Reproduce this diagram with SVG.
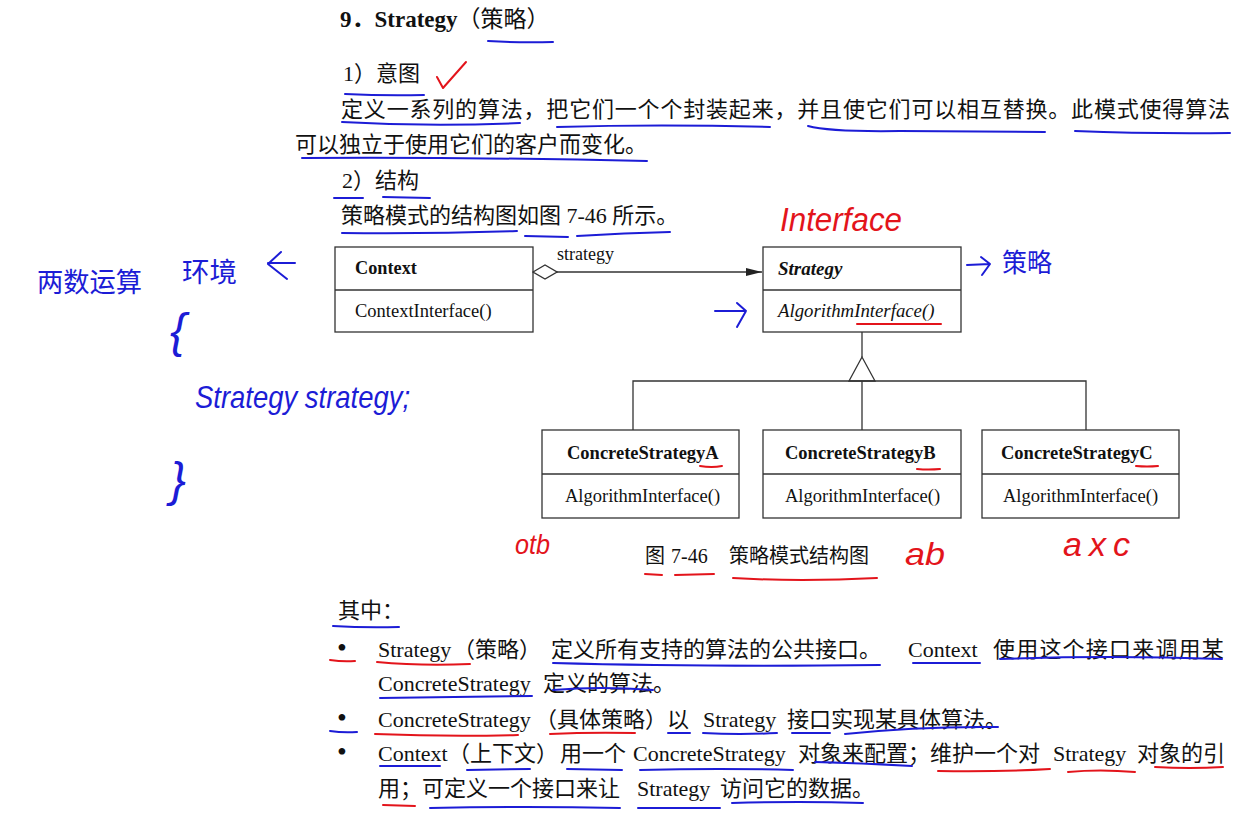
<svg xmlns="http://www.w3.org/2000/svg" width="1257" height="813" viewBox="0 0 1257 813">
<style>
.t{font-family:"Liberation Serif","Noto Sans CJK SC",serif;fill:#111;font-size:22px}
.u{font-family:"Liberation Serif","Noto Sans CJK SC",serif;fill:#111;font-size:18.5px}
.b{font-weight:bold}
.i{font-style:italic}
.bul{font-family:"Liberation Serif",serif;fill:#111;font-size:28px}
.box{fill:#fff;stroke:#333;stroke-width:1.3}
.ln{fill:none;stroke:#333;stroke-width:1.3}
.ub{fill:none;stroke:#1c1cd6;stroke-width:2;stroke-linecap:round;stroke-linejoin:round}
.ur{fill:none;stroke:#e3141b;stroke-width:2;stroke-linecap:round;stroke-linejoin:round}
.hb{font-family:"Liberation Sans","DejaVu Sans",sans-serif;font-style:italic;fill:#1c1cd6}
.hbc{font-family:"Noto Sans CJK SC",sans-serif;fill:#1c1cd6}
.hr{font-family:"Liberation Sans","DejaVu Sans",sans-serif;font-style:italic;fill:#e3141b}
</style>
<defs>
<marker id="diamond" viewBox="0 0 26 16" refX="1" refY="8" markerWidth="26" markerHeight="16" orient="auto" markerUnits="userSpaceOnUse"><path d="M1,8 L13,1 L25,8 L13,15 Z" fill="#fff" stroke="#333" stroke-width="1.3"/></marker>
<marker id="arrow" viewBox="0 0 16 10" refX="16" refY="5" markerWidth="16" markerHeight="10" orient="auto" markerUnits="userSpaceOnUse"><path d="M0,1 L16,5 L0,9 Z" fill="#222"/></marker>
</defs>
<rect width="1257" height="813" fill="#fff"/>

<g id="heading">
<text class="t" x="340" y="27" style="font-size:23px"><tspan class="b">9．Strategy</tspan>（策略）</text>
<text class="t" x="343" y="81">1）意图</text>
<text class="t" x="341" y="117" textLength="889" lengthAdjust="spacing">定义一系列的算法，把它们一个个封装起来，并且使它们可以相互替换。此模式使得算法</text>
<text class="t" x="295" y="152">可以独立于使用它们的客户而变化。</text>
<text class="t" x="342" y="188">2）结构</text>
<text class="t" x="341" y="223">策略模式的结构图如图 7-46 所示。</text>
</g>

<g id="context">
<rect class="box" x="335" y="247" width="198" height="85"/>
<line class="ln" x1="335" y1="290" x2="533" y2="290"/>
<text class="u b" x="355" y="274" style="font-size:18.3px">Context</text>
<text class="u" x="355" y="317">ContextInterface()</text>
</g>

<g id="strategy">
<rect class="box" x="763" y="247" width="198" height="85"/>
<line class="ln" x1="763" y1="290" x2="961" y2="290"/>
<text class="u b i" x="778" y="275" style="font-size:19px">Strategy</text>
<text class="u i" x="778" y="317" style="font-size:18.8px">AlgorithmInterface()</text>
</g>

<g id="concreteA">
<rect class="box" x="542" y="430" width="197" height="88"/>
<line class="ln" x1="542" y1="474" x2="739" y2="474"/>
<text class="u b" x="567" y="459">ConcreteStrategyA</text>
<text class="u" x="565" y="502">AlgorithmInterface()</text>
</g>

<g id="concreteB">
<rect class="box" x="763" y="430" width="198" height="88"/>
<line class="ln" x1="763" y1="474" x2="961" y2="474"/>
<text class="u b" x="785" y="459">ConcreteStrategyB</text>
<text class="u" x="785" y="502">AlgorithmInterface()</text>
</g>

<g id="concreteC">
<rect class="box" x="982" y="430" width="197" height="88"/>
<line class="ln" x1="982" y1="474" x2="1179" y2="474"/>
<text class="u b" x="1001" y="459">ConcreteStrategyC</text>
<text class="u" x="1003" y="502">AlgorithmInterface()</text>
</g>

<g id="connectors">
<line class="ln" x1="533" y1="272" x2="762" y2="272" marker-start="url(#diamond)" marker-end="url(#arrow)"/>
<text class="u" x="557" y="260" style="font-size:18px">strategy</text>
<path class="ln" d="M862,332 V357"/>
<path class="ln" d="M862,357 L849,381 L875,381 Z"/>
<path class="ln" d="M633,430 V381 H1086 V430 M862,381 V430"/>
</g>

<g id="caption">
<text class="t" y="563" style="font-size:20px"><tspan x="645">图</tspan><tspan x="671">7-46</tspan><tspan x="729">策略模式结构图</tspan></text>
</g>

<g id="notes">
<text class="t" x="338" y="618">其中：</text>
<text class="bul" x="337" y="657">•</text>
<text class="t" y="657"><tspan x="378">Strategy</tspan><tspan x="453">（策略）</tspan><tspan x="551">定义所有支持的算法的公共接口。</tspan><tspan x="908">Context</tspan><tspan x="993" letter-spacing="1.2">使用这个接口来调用某</tspan></text>
<text class="t" y="691"><tspan x="378">ConcreteStrategy</tspan><tspan x="543">定义的算法。</tspan></text>
<text class="bul" x="337" y="727">•</text>
<text class="t" y="727"><tspan x="378">ConcreteStrategy</tspan><tspan x="535">（具体策略）</tspan><tspan x="667">以</tspan><tspan x="703">Strategy</tspan><tspan x="787">接口实现某具体算法。</tspan></text>
<text class="bul" x="337" y="761">•</text>
<text class="t" y="761"><tspan x="378">Context</tspan><tspan x="448">（上下文）</tspan><tspan x="560">用一个</tspan><tspan x="633">ConcreteStrategy</tspan><tspan x="798">对象来配置；维护一个对</tspan><tspan x="1053">Strategy</tspan><tspan x="1137">对象的引</tspan></text>
<text class="t" y="796"><tspan x="378">用；可定义一个接口来让</tspan><tspan x="637">Strategy</tspan><tspan x="720">访问它的数据。</tspan></text>
</g>

<g id="annotations">
<!-- blue underlines, top -->
<path class="ub" d="M488,41 Q520,43 553,42"/>
<path class="ub" d="M345,94 Q385,96 424,95"/>
<path class="ub" d="M342,122 Q430,127 520,123"/>
<path class="ub" d="M557,127 Q660,124 770,127"/>
<path class="ub" d="M808,126 Q830,132 900,131 L1045,132"/>
<path class="ub" d="M1075,131 Q1150,134 1230,133"/>
<path class="ub" d="M302,158 Q470,157 647,161"/>
<path class="ub" d="M334,198 L363,198"/>
<path class="ub" d="M383,197 L430,198"/>
<path class="ub" d="M342,233 Q430,234 517,231"/>
<path class="ub" d="M525,236 L568,237"/>
<path class="ub" d="M577,236 Q625,233 670,232"/>
<!-- red check -->
<path class="ur" d="M437,77 L443,88 L466,62"/>
<!-- red handwriting -->
<text class="hr" x="780" y="231" style="font-size:34px" textLength="122" lengthAdjust="spacingAndGlyphs">Interface</text>
<path class="ur" d="M857,324 L941,324"/>
<path class="ur" d="M700,466 Q712,468 722,466"/>
<path class="ur" d="M917,469 Q929,470 940,469"/>
<path class="ur" d="M1136,466 Q1147,467 1158,466"/>
<text class="hr" x="515" y="554" style="font-size:28px" textLength="35" lengthAdjust="spacingAndGlyphs">otb</text>
<text class="hr" x="905" y="565" style="font-size:32px" textLength="40" lengthAdjust="spacingAndGlyphs">ab</text>
<text class="hr" x="1063" y="556" style="font-size:34px" textLength="67" lengthAdjust="spacing">axc</text>
<path class="ur" d="M645,574 L662,575"/>
<path class="ur" d="M675,575 L714,574"/>
<path class="ur" d="M733,578 Q800,582 877,578"/>
<!-- blue handwriting -->
<path class="ub" d="M967,265 L990,264 M981,257 L990,264 L982,275"/>
<text class="hbc" x="1002" y="272" style="font-size:26px" textLength="50" lengthAdjust="spacingAndGlyphs">策略</text>
<path class="ub" d="M715,311 L746,311 M737,303 L746,311 L737,327"/>
<text class="hbc" x="37" y="292" style="font-size:27px" textLength="105" lengthAdjust="spacingAndGlyphs">两数运算</text>
<text class="hbc" x="182" y="282" style="font-size:27px" textLength="55" lengthAdjust="spacingAndGlyphs">环境</text>
<path class="ub" d="M268,263 L295,263 M281,252 L268,264 L287,279"/>
<text class="hb" x="170" y="347" style="font-size:48px">{</text>
<text class="hb" x="195" y="408" style="font-size:32px" textLength="215" lengthAdjust="spacingAndGlyphs">Strategy strategy;</text>
<text class="hb" x="170" y="496" style="font-size:48px">}</text>
<!-- bottom underlines -->
<path class="ub" d="M333,626 Q365,628 399,627"/>
<path class="ur" d="M330,660 Q343,662 355,661"/>
<path class="ur" d="M377,662 Q420,666 470,664"/>
<path class="ub" d="M553,663 Q700,667 880,665"/>
<path class="ub" d="M913,663 L980,663"/>
<path class="ub" d="M1000,659 Q1110,655 1222,659"/>
<path class="ub" d="M380,698 Q450,697 532,696"/>
<path class="ub" d="M553,690 Q600,686 653,690"/>
<path class="ub" d="M330,731 Q343,733 357,732"/>
<path class="ur" d="M375,734 Q450,737 518,735"/>
<path class="ur" d="M550,734 Q590,732 635,733"/>
<path class="ub" d="M668,733 L690,733"/>
<path class="ub" d="M703,733 Q740,735 777,733"/>
<path class="ub" d="M792,733 L830,733"/>
<path class="ub" d="M845,734 Q920,726 998,727"/>
<path class="ub" d="M380,766 L440,766"/>
<path class="ub" d="M467,770 L530,769"/>
<path class="ub" d="M567,769 L622,770"/>
<path class="ub" d="M640,770 Q720,768 793,770"/>
<path class="ub" d="M815,762 Q860,763 912,766"/>
<path class="ur" d="M938,771 Q1000,772 1050,769"/>
<path class="ur" d="M1068,772 Q1100,769 1135,772"/>
<path class="ur" d="M1155,767 Q1190,769 1223,767"/>
<path class="ur" d="M383,805 L415,806"/>
<path class="ub" d="M430,808 Q525,806 620,808"/>
<path class="ub" d="M638,808 L720,808"/>
<path class="ub" d="M732,803 Q800,801 863,803"/>
</g>
</svg>
